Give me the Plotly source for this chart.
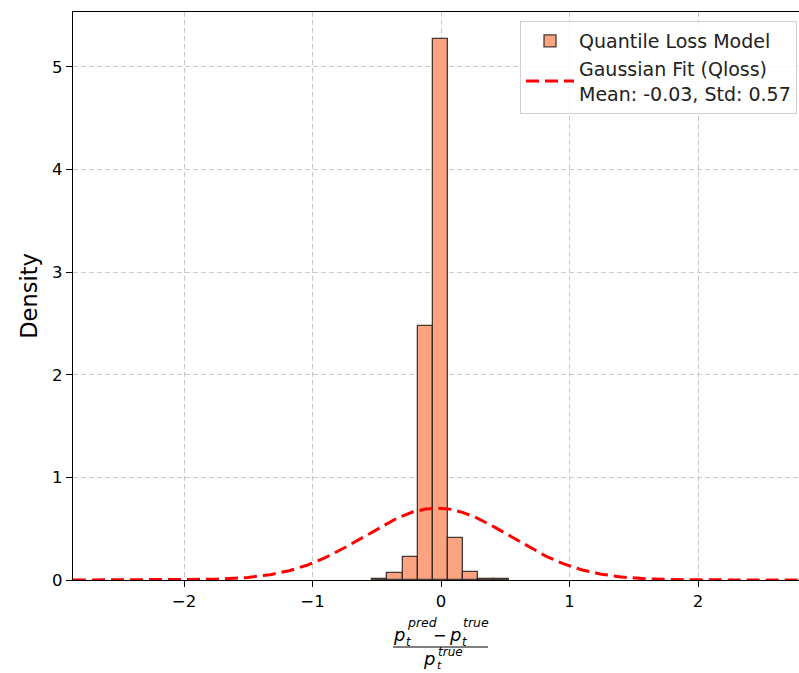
import numpy as np
import plotly.graph_objects as go

# ---- data ----
bin_edges = [-0.535, -0.417, -0.299, -0.181, -0.063, 0.055, 0.173, 0.291, 0.409, 0.527]
densities = [0.008, 0.065, 0.22, 2.48, 5.27, 0.41, 0.075, 0.01, 0.008]
fit_mean = -0.03
fit_std = 0.57
x_ticks = [-2, -1, 0, 1, 2]
y_ticks = [0, 1, 2, 3, 4, 5]
x_range = [-2.864, 2.786]
y_range = [0, 5.535]

centers = [(a + b) / 2 for a, b in zip(bin_edges[:-1], bin_edges[1:])]
widths = [b - a for a, b in zip(bin_edges[:-1], bin_edges[1:])]

xs = np.linspace(x_range[0], x_range[1] + 0.1, 500)
pdf = np.exp(-0.5 * ((xs - fit_mean) / fit_std) ** 2) / (fit_std * np.sqrt(2 * np.pi))

W, H = 799, 673
L, R, T, B = 73, 0, 12, 93
PW, PH = W - L - R, H - T - B

FONT = "DejaVu Sans"

fig = go.Figure()
fig.add_trace(go.Bar(
    x=centers, y=densities, width=widths,
    marker=dict(color="#FCA382", line=dict(color="rgba(40,30,25,0.85)", width=1.3)),
    name="Quantile Loss Model",
))
fig.add_trace(go.Scatter(
    x=xs, y=pdf, mode="lines",
    line=dict(color="red", width=3, dash="13px,6px"),
    name=f"Gaussian Fit (Qloss)<br>Mean: {fit_mean:.2f}, Std: {fit_std:.2f}",
))

def px(xp):
    return (xp - L) / PW

def py(yp):
    return (H - B - yp) / PH

ann = []
def txt(s, xp, yp, size, anchor="center"):
    ann.append(dict(text=s, x=px(xp), y=py(yp), xref="paper", yref="paper",
                    xanchor=anchor, yanchor="middle", showarrow=False,
                    font=dict(family=FONT, size=size, color="black")))

# numerator
txt("<i>p</i>", 399, 634, 18)
txt("<i>pred</i>", 405, 622, 12.5, "left")
txt("<i>t</i>", 404, 642, 11.5, "left")
txt("−", 440, 635, 16)
txt("<i>p</i>", 455, 634, 18)
txt("<i>true</i>", 461, 622, 12.5, "left")
txt("<i>t</i>", 460, 642, 11.5, "left")
# denominator
txt("<i>p</i>", 429, 658, 18)
txt("<i>true</i>", 436, 652, 12, "left")
txt("<i>t</i>", 435, 665, 11, "left")

fig.update_layout(
    width=W, height=H,
    margin=dict(l=L, r=R, t=T, b=B, pad=0),
    plot_bgcolor="white", paper_bgcolor="white",
    font=dict(family=FONT, size=16, color="black"),
    bargap=0,
    annotations=ann,
    shapes=[dict(type="line", xref="paper", yref="paper",
                 x0=px(393), x1=px(488), y0=py(647), y1=py(647),
                 line=dict(color="black", width=1))],
    legend=dict(x=px(797), y=py(21), xanchor="right", yanchor="top",
                bgcolor="rgba(255,255,255,0.85)", bordercolor="#d0d0d0", borderwidth=1,
                font=dict(family=FONT, size=19, color="#222"),
                itemwidth=48, tracegroupgap=0),
    showlegend=True,
)
fig.update_xaxes(
    range=x_range, tickvals=x_ticks, ticks="outside", ticklen=6, tickcolor="black",
    showline=True, linecolor="black", linewidth=1.2, mirror=True,
    showgrid=True, gridcolor="#c8c8c8", griddash="5px,3px", gridwidth=1,
    zeroline=False, tickfont=dict(size=16.5, family=FONT),
)
fig.update_yaxes(
    range=y_range, tickvals=y_ticks, ticks="outside", ticklen=6, tickcolor="black",
    showline=True, linecolor="black", linewidth=1.2, mirror=False,
    showgrid=True, gridcolor="#c8c8c8", griddash="5px,3px", gridwidth=1,
    zeroline=False, tickfont=dict(size=16.5, family=FONT),
    title=dict(text="Density", font=dict(size=22.5, family=FONT), standoff=8),
)

fig.write_html("out.html")
